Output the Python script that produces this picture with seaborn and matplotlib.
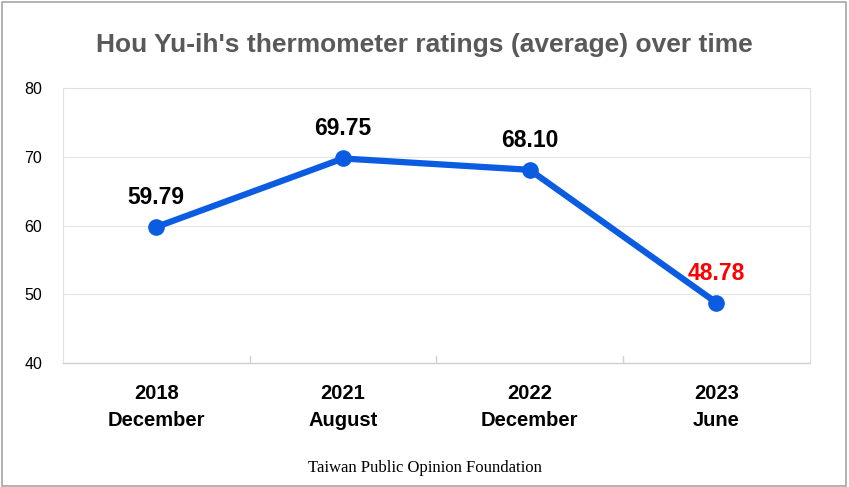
import matplotlib
matplotlib.use("Agg")
import matplotlib.pyplot as plt
import seaborn as sns
import pandas as pd
from matplotlib.patches import Rectangle

years = ["2018", "2021", "2022", "2023"]
months = ["December", "August", "December", "June"]
ratings = [59.79, 69.75, 68.10, 48.78]
label_colors = ["black", "black", "black", "#FF0000"]
y_ticks = [40, 50, 60, 70, 80]

title = "Hou Yu-ih's thermometer ratings (average) over time"
source = "Taiwan Public Opinion Foundation"

sns.set_theme(style="white")
plt.rcParams['font.family'] = ['Liberation Sans', 'DejaVu Sans']

cats = [f"{y}\n{m}" for y, m in zip(years, months)]
df = pd.DataFrame({"cat": cats, "rating": ratings})

fig = plt.figure(figsize=(8.49, 4.87), dpi=100)
ax = fig.add_axes([0.0742, 0.2546, 0.8795, 0.5647])

blue = "#0B5CE0"
sns.lineplot(data=df, x="cat", y="rating", ax=ax, color=blue, linewidth=4.5,
             marker="o", markersize=12, markeredgewidth=0, sort=False)

ax.set_xlim(-0.5, len(cats) - 0.5)
ax.set_ylim(40, 80)
ax.set_yticks(y_ticks)
ax.set_yticklabels([str(v) for v in y_ticks], fontsize=11.5)
ax.set_xticks(range(len(cats)))
ax.set_xticklabels(cats, fontsize=14.5, fontweight="bold", linespacing=1.55)
ax.tick_params(axis="x", length=0, pad=15, colors="black")
ax.tick_params(axis="y", length=0, pad=15, colors="black")
ax.set_xlabel("")
ax.set_ylabel("")
ax.yaxis.grid(True, color="#E6E6E6", linewidth=0.8)
ax.set_axisbelow(True)
for side in ["top", "right", "left"]:
    ax.spines[side].set_color("#E0E0E0")
    ax.spines[side].set_linewidth(0.8)
ax.spines["bottom"].set_color("#D0D0D0")
ax.spines["bottom"].set_linewidth(1.0)

# category boundary ticks
for b in [0.5, 1.5, 2.5]:
    ax.plot([b, b], [40, 41.0], color="#D0D0D0", linewidth=1.0, clip_on=False)

for i, (v, c) in enumerate(zip(ratings, label_colors)):
    ax.annotate(f"{v:.2f}", (i, v), xytext=(0, 13), textcoords="offset points",
                ha="center", va="bottom", fontsize=16.5, fontweight="bold", color=c)

fig.text(0.5, 0.907, title, ha="center", va="center", fontsize=19,
         fontweight="bold", color="#595959")
fig.text(0.5, 0.04, source, ha="center", va="center", fontsize=12,
         family="Liberation Serif", color="black")

fig.patches.append(Rectangle((0.002, 0.003), 0.995, 0.993, transform=fig.transFigure,
                             fill=False, edgecolor="#A6A6A6", linewidth=1.2))

fig.savefig("out.png", dpi=100)
